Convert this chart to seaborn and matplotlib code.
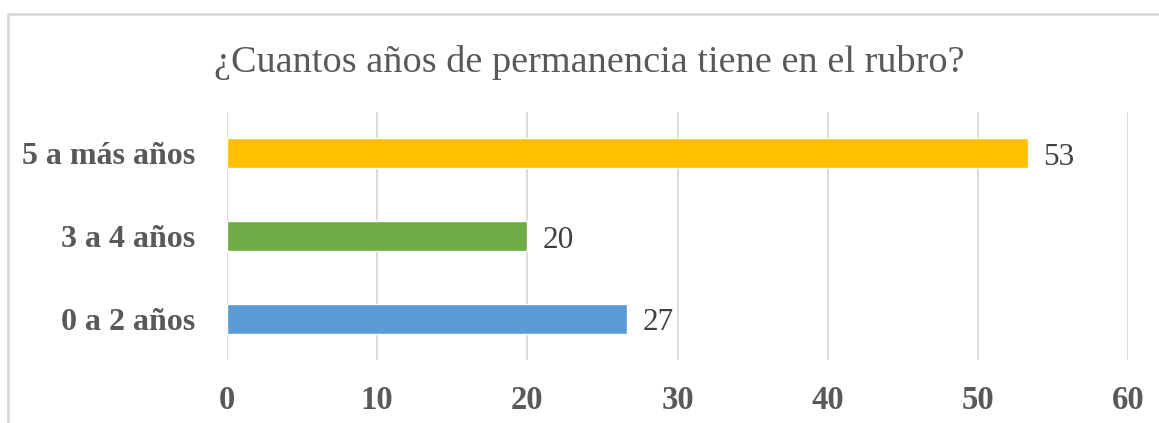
import matplotlib
matplotlib.use("Agg")
import matplotlib.pyplot as plt
import seaborn as sns
import pandas as pd
from matplotlib.patches import Rectangle

# data (percentages, shown rounded)
categorias = ["5 a más años", "3 a 4 años", "0 a 2 años"]
valores = [53.33, 20.0, 26.67]
colores = ["#FFC000", "#70AD47", "#5B9BD5"]
titulo = "¿Cuantos años de permanencia tiene en el rubro?"

sns.set_style("white")
plt.rcParams['font.family'] = ['Liberation Serif', 'DejaVu Serif']

df = pd.DataFrame({"cat": categorias, "val": valores})

fig = plt.figure(figsize=(11.59, 4.23), dpi=100)
ax = fig.add_axes([227/1159, 1-360/423, (1128-227)/1159, (360-112)/423])

sns.barplot(data=df, x="val", y="cat", hue="cat", order=categorias,
            palette=dict(zip(categorias, colores)), width=0.36,
            legend=False, ax=ax, saturation=1)

ax.set_xlim(0, 60)
ax.set_ylim(2.5, -0.5)
ax.set_xticks(range(0, 61, 10))
ax.grid(axis='x', color='#d9d9d9', linewidth=1.3)
ax.set_axisbelow(True)
for s in ax.spines.values():
    s.set_visible(False)
ax.set_xlabel("")
ax.set_ylabel("")
ax.tick_params(axis='x', length=0, pad=18, labelsize=23.5, labelcolor='#595959')
ax.tick_params(axis='y', length=0, pad=23, labelsize=23, labelcolor='#595959')
for lab in ax.get_xticklabels() + ax.get_yticklabels():
    lab.set_fontweight('bold')

for c in ax.containers:
    txts = ax.bar_label(c, fmt='%.0f', padding=11, fontsize=22.5, color='#404040')
    for t in txts:
        t.xyann = (11, -3)

fig.text(589/1159, 1-63/423, titulo, ha='center', va='center',
         fontsize=27.5, color='#595959')

# light frame of the chart area
fig.patches.append(Rectangle((8/1159, -0.1), 1.2, 1-14/423+0.1,
                             transform=fig.transFigure, fill=False,
                             edgecolor='#d9d9d9', linewidth=2))

fig.savefig("out.png", dpi=100)
